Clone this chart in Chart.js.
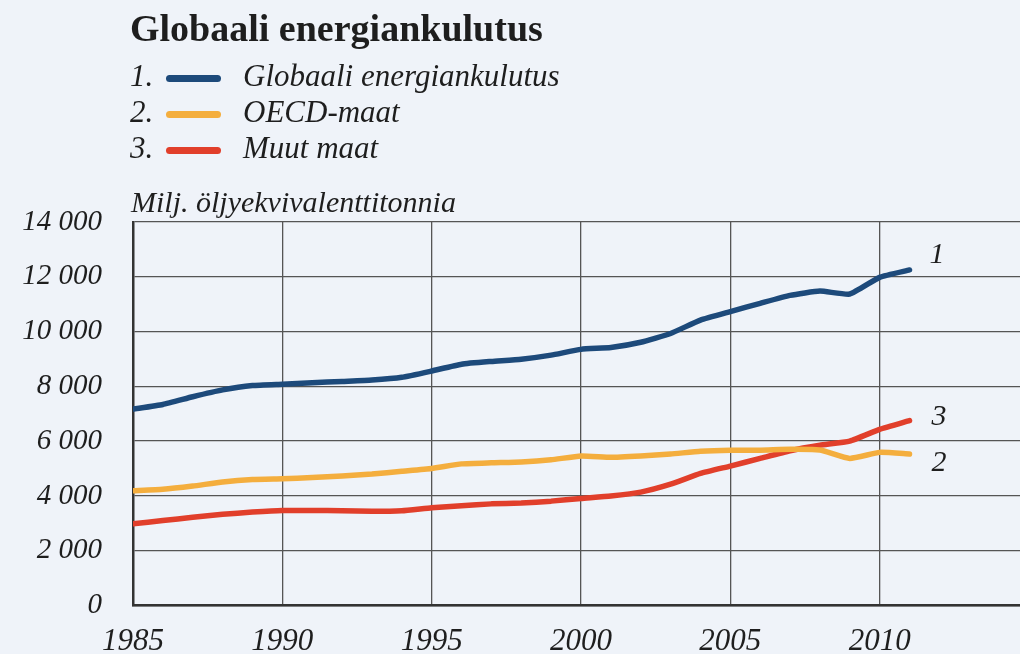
<!DOCTYPE html>
<html>
<head>
<meta charset="utf-8">
<script src="https://cdn.jsdelivr.net/npm/chart.js@4.4.1/dist/chart.umd.min.js"></script>
<style>
  html, body { margin: 0; padding: 0; background: #eff3f9; }
  #wrap { position: relative; width: 1020px; height: 654px; overflow: hidden; background: #eff3f9; }
  canvas { position: absolute; left: 0; top: 0; }
  .t { position: absolute; font-family: "Liberation Serif", "Times New Roman", serif; color: #1e1e1e; white-space: nowrap; line-height: normal; }
  #title { left: 130px; top: 6px; font-size: 38px; font-weight: bold; }
  .leg { position: absolute; left: 0; width: 700px; height: 36px; font-family: "Liberation Serif", serif; font-style: italic; font-size: 31px; color: #1e1e1e; white-space: nowrap; line-height: normal; }
  .leg .n { position: absolute; left: 130px; top: 0; }
  .leg .sw { position: absolute; left: 166px; top: 17px; width: 55px; height: 7px; border-radius: 4px; }
  .leg .lbl { position: absolute; left: 243px; top: 0; }
  #ylab { left: 131px; top: 185px; font-size: 30px; font-style: italic; }
</style>
</head>
<body>
<div id="wrap">
  <canvas id="c" width="1020" height="654"></canvas>
  <div id="title" class="t">Globaali energiankulutus</div>
  <div id="legend"></div>
  <div id="ylab" class="t">Milj. öljyekvivalenttitonnia</div>
</div>
<script>
// ---- data ----
const years = [1985,1986,1987,1988,1989,1990,1991,1992,1993,1994,1995,1996,1997,1998,1999,2000,2001,2002,2003,2004,2005,2006,2007,2008,2009,2010,2011];
const globalTotal = [7170,7340,7620,7870,8030,8080,8130,8180,8230,8330,8560,8810,8910,8990,9140,9350,9420,9610,9930,10420,10730,11030,11320,11480,11370,11980,12250];
const oecd = [4190,4240,4360,4510,4600,4630,4670,4730,4800,4900,5000,5170,5210,5240,5320,5460,5410,5460,5530,5630,5670,5670,5700,5680,5370,5590,5530];
const others = [2980,3100,3220,3330,3410,3470,3470,3460,3440,3460,3570,3640,3710,3740,3810,3910,4000,4140,4430,4820,5090,5370,5650,5850,6000,6430,6750];
const seriesNames = ["Globaali energiankulutus", "OECD-maat", "Muut maat"];
const seriesNumbers = ["1", "2", "3"];
const yTicks = [0,2000,4000,6000,8000,10000,12000,14000];
const xTicks = [1985,1990,1995,2000,2005,2010];

const colors = ["#1d4a7b", "#f4ae3e", "#e13f2b"];
const seriesData = [globalTotal, oecd, others];

// legend (HTML text)
const legTops = [58, 94, 130];
const legend = document.getElementById('legend');
seriesNames.forEach((name, i) => {
  const d = document.createElement('div');
  d.className = 'leg';
  d.style.top = legTops[i] + 'px';
  d.innerHTML = '<span class="n">' + seriesNumbers[i] + '.</span><span class="sw" style="background:' + colors[i] + '"></span><span class="lbl">' + name + '</span>';
  legend.appendChild(d);
});

const fmt = v => {
  const s = String(v);
  return s.length > 3 ? s.slice(0, s.length - 3) + ' ' + s.slice(-3) : s;
};

const endLabelOffsets = [{dx: 20, dy: -15}, {dx: 22, dy: 9}, {dx: 22, dy: -3}];
const endLabels = {
  id: 'endLabels',
  afterDatasetsDraw(chart) {
    const ctx = chart.ctx;
    ctx.save();
    ctx.font = 'italic 30px "Liberation Serif", serif';
    ctx.fillStyle = '#1e1e1e';
    ctx.textBaseline = 'middle';
    ctx.textAlign = 'left';
    chart.data.datasets.forEach((ds, i) => {
      const meta = chart.getDatasetMeta(i);
      const p = meta.data[meta.data.length - 1];
      const o = endLabelOffsets[i];
      ctx.fillText(seriesNumbers[i], p.x + o.dx, p.y + o.dy);
    });
    ctx.restore();
  }
};

const tickFont = { family: '"Liberation Serif", serif', style: 'italic' };

new Chart(document.getElementById('c'), {
  type: 'line',
  data: {
    datasets: seriesData.map((arr, i) => ({
      label: seriesNames[i],
      data: years.map((y, k) => ({ x: y, y: arr[k] })),
      borderColor: colors[i],
      backgroundColor: colors[i],
      borderWidth: 5.5,
      pointRadius: 0,
      tension: 0.15,
      borderCapStyle: 'round',
      borderJoinStyle: 'round',
      fill: false
    }))
  },
  options: {
    responsive: false,
    animation: false,
    devicePixelRatio: 1,
    layout: { padding: { top: 222, right: 0, left: 0, bottom: 0 } },
    plugins: { legend: { display: false }, title: { display: false }, tooltip: { enabled: false } },
    scales: {
      x: {
        type: 'linear',
        min: 1985,
        max: 2014.7,
        afterFit(s) { s.height = 48.5; },
        afterBuildTicks(s) { s.ticks = xTicks.map(v => ({ value: v })); },
        ticks: { font: { ...tickFont, size: 31 }, color: '#1e1e1e', padding: 18, maxRotation: 0, autoSkip: false, callback: v => String(v) },
        grid: { color: '#555', lineWidth: 1.3, drawTicks: false },
        border: { display: true, color: '#333', width: 2.5 }
      },
      y: {
        min: 0,
        max: 14000,
        afterFit(s) { s.width = 133; },
        afterBuildTicks(s) { s.ticks = yTicks.map(v => ({ value: v })); },
        ticks: { font: { ...tickFont, size: 29 }, color: '#1e1e1e', padding: 31, callback: v => fmt(v) },
        grid: { color: '#555', lineWidth: 1.3, drawTicks: false },
        border: { display: true, color: '#333', width: 2.5 }
      }
    }
  },
  plugins: [endLabels]
});
</script>
</body>
</html>
